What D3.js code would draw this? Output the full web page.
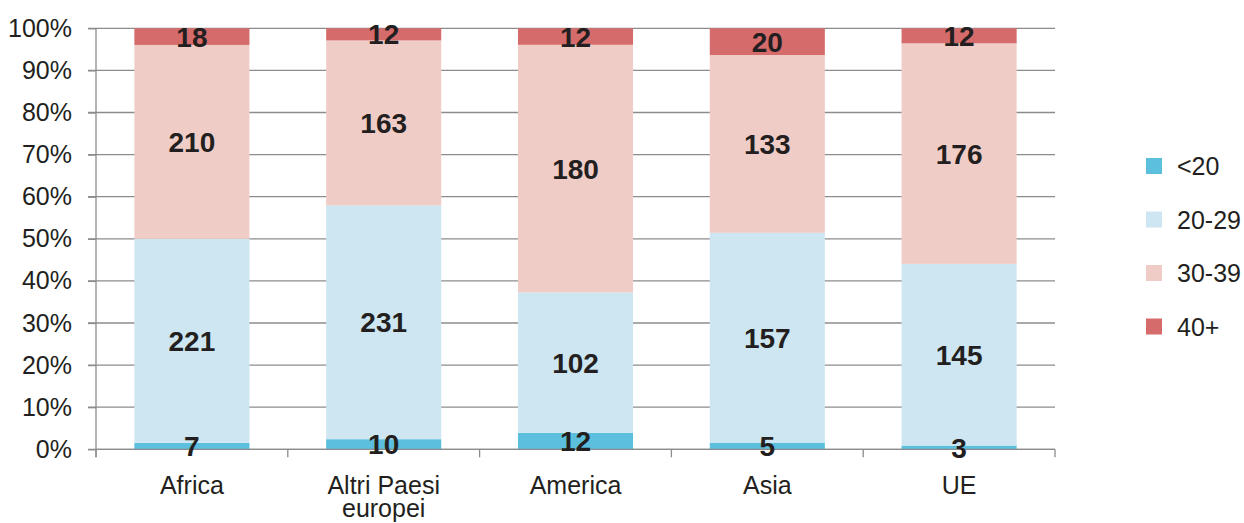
<!DOCTYPE html>
<html>
<head>
<meta charset="utf-8">
<script src="https://cdn.jsdelivr.net/npm/d3@7"></script>
<style>
  html, body { margin: 0; padding: 0; background: #fff; }
  svg { display: block; font-family: "Liberation Sans", Arial, sans-serif; }
</style>
</head>
<body>
<svg id="chart" width="1244" height="523"></svg>
<script>
// Age groups by area of origin (counts, shown as share of each area's total)
const categories = ["Africa", "Altri Paesi europei", "America", "Asia", "UE"];
const seriesNames = ["<20", "20-29", "30-39", "40+"];
const under20 = [7, 10, 12, 5, 3];
const age20to29 = [221, 231, 102, 157, 145];
const age30to39 = [210, 163, 180, 133, 176];
const age40plus = [18, 12, 12, 20, 12];
const yTickLabels = ["0%", "10%", "20%", "30%", "40%", "50%", "60%", "70%", "80%", "90%", "100%"];

const colors = ["#5bbfdd", "#cde6f1", "#f0ccc7", "#d56b6b"];
const textColor = "#231f20";
const gridColor = "#8c8c8c";

const rows = categories.map((c, i) => ({
  category: c,
  "<20": under20[i],
  "20-29": age20to29[i],
  "30-39": age30to39[i],
  "40+": age40plus[i]
}));

const margin = { left: 96, right: 189, top: 28.3, bottom: 73.7 };
const W = 1244, H = 523;
const svg = d3.select("#chart");

const x = d3.scaleBand()
  .domain(categories)
  .range([margin.left, W - margin.right])
  .paddingInner(0.4)
  .paddingOuter(0.2);

const y = d3.scaleLinear()
  .domain([0, 1])
  .range([H - margin.bottom, margin.top]);

const stacked = d3.stack()
  .keys(seriesNames)
  .offset(d3.stackOffsetExpand)(rows);

// horizontal gridlines (including the short outer tick on the left)
svg.append("g")
  .selectAll("line")
  .data(d3.range(0, 11))
  .join("line")
  .attr("x1", margin.left - 8)
  .attr("x2", W - margin.right)
  .attr("y1", d => y(d / 10))
  .attr("y2", d => y(d / 10))
  .attr("stroke", gridColor)
  .attr("stroke-width", 1.3);

// bars
svg.append("g")
  .selectAll("g")
  .data(stacked)
  .join("g")
  .attr("fill", (d, i) => colors[i])
  .selectAll("rect")
  .data(d => d)
  .join("rect")
  .attr("x", d => x(d.data.category))
  .attr("width", x.bandwidth())
  .attr("y", d => y(d[1]))
  .attr("height", d => y(d[0]) - y(d[1]));

// y axis
const yAxis = d3.axisLeft(y)
  .tickValues(d3.range(0, 11).map(d => d / 10))
  .tickFormat((d, i) => yTickLabels[i])
  .tickSize(8)
  .tickPadding(16);

const gy = svg.append("g")
  .attr("transform", `translate(${margin.left},0)`)
  .call(yAxis);
gy.select(".domain").attr("stroke", gridColor).attr("stroke-width", 1.3)
  .attr("d", `M0,${y(1)}V${y(0) + 8}`);
gy.selectAll(".tick line").attr("stroke", gridColor).attr("stroke-width", 1.3);
gy.selectAll(".tick text")
  .attr("fill", textColor)
  .attr("font-size", 25)
  .attr("font-family", "Liberation Sans, Arial, sans-serif");

// x axis: ticks sit on band boundaries
const edges = categories.map(c => x(c) - x.step() * x.paddingInner() / 2);
edges[0] = margin.left;
edges.push(W - margin.right);

const gx = svg.append("g");
gx.append("line")
  .attr("x1", margin.left).attr("x2", W - margin.right)
  .attr("y1", y(0)).attr("y2", y(0))
  .attr("stroke", gridColor).attr("stroke-width", 1.3);
gx.selectAll("line.tick")
  .data(edges)
  .join("line")
  .attr("class", "tick")
  .attr("x1", d => d).attr("x2", d => d)
  .attr("y1", y(0)).attr("y2", y(0) + 8)
  .attr("stroke", gridColor).attr("stroke-width", 1.3);

const xLabels = {
  "Africa": ["Africa"],
  "Altri Paesi europei": ["Altri Paesi", "europei"],
  "America": ["America"],
  "Asia": ["Asia"],
  "UE": ["UE"]
};
gx.selectAll("text")
  .data(categories)
  .join("text")
  .attr("x", d => x(d) + x.bandwidth() / 2)
  .attr("y", 494)
  .attr("text-anchor", "middle")
  .attr("fill", textColor)
  .attr("font-size", 25)
  .each(function (d) {
    const t = d3.select(this);
    xLabels[d].forEach((line, i) => {
      t.append("tspan")
        .attr("x", x(d) + x.bandwidth() / 2)
        .attr("dy", i === 0 ? 0 : 23)
        .text(line);
    });
  });

// value labels centred in each segment, drawn above all bars
const labelData = stacked.flatMap(layer => layer.map(v => ({ v, key: layer.key })));
svg.append("g")
  .selectAll("text")
  .data(labelData)
  .join("text")
  .attr("x", d => x(d.v.data.category) + x.bandwidth() / 2)
  .attr("y", d => (y(d.v[0]) + y(d.v[1])) / 2)
  .attr("dy", "0.36em")
  .attr("text-anchor", "middle")
  .attr("fill", textColor)
  .attr("font-size", 28)
  .attr("font-weight", "bold")
  .text(d => d.v.data[d.key]);

// legend
const legend = svg.append("g")
  .selectAll("g")
  .data(seriesNames)
  .join("g")
  .attr("transform", (d, i) => `translate(1146,${166 + i * 53.5})`);
legend.append("rect")
  .attr("x", 0).attr("y", -8)
  .attr("width", 16).attr("height", 16)
  .attr("fill", (d, i) => colors[i]);
legend.append("text")
  .attr("x", 31)
  .attr("y", 0)
  .attr("dy", "0.36em")
  .attr("fill", textColor)
  .attr("font-size", 25)
  .text(d => d);
</script>
</body>
</html>
